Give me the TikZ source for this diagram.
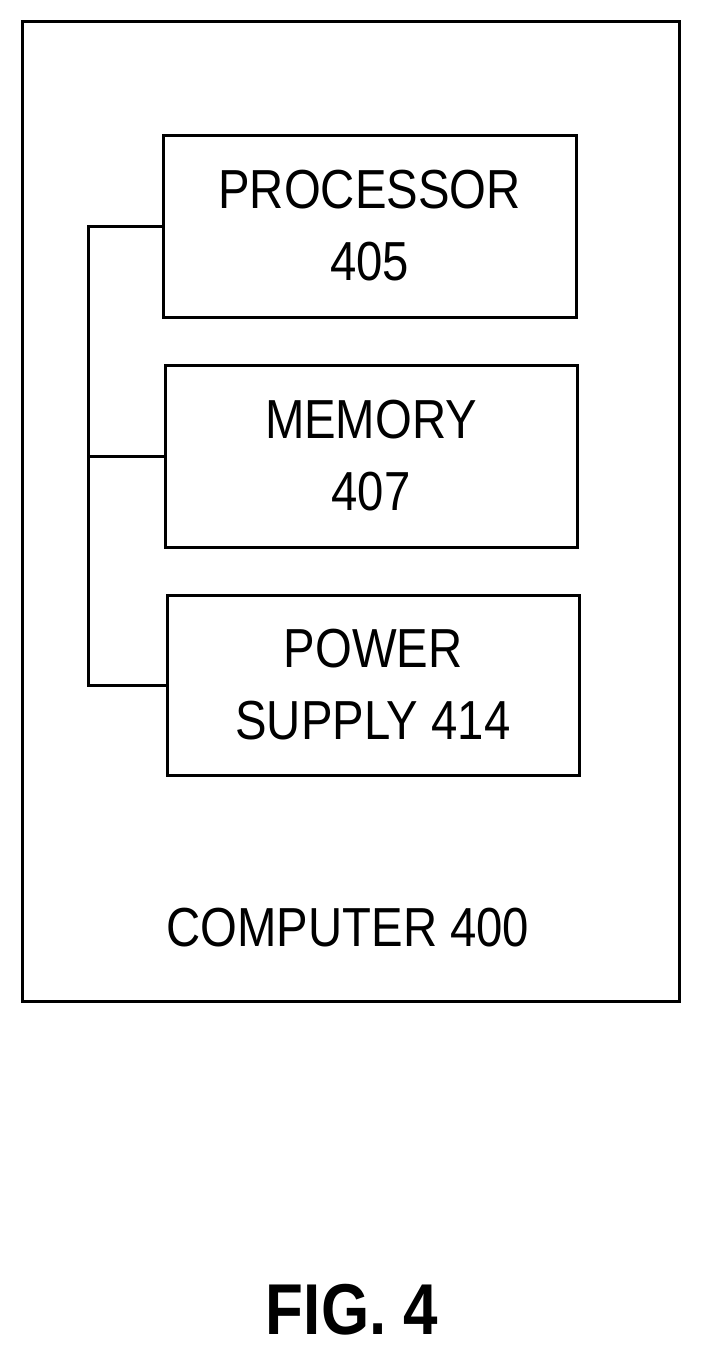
\documentclass[tikz,border=0pt]{standalone}
\usepackage{fontspec}
\setmainfont{Liberation Sans}[FakeStretch=0.86]
\begin{document}
\begin{tikzpicture}[x=1pt,y=-1pt,
  box/.style={draw,line width=3pt},
  lbl/.style={font=\fontsize{55}{72}\selectfont,align=center},
  wire/.style={line width=3pt}]
\useasboundingbox (0,0) rectangle (701,1354);
\draw[box] (22,22) rectangle (679,1001);
\node[box,minimum width=413pt,minimum height=182pt,lbl] (p) at (369.5,226) {PROCESSOR\\405};
\node[box,minimum width=412pt,minimum height=182pt,lbl] (m) at (371,456) {MEMORY\\407};
\node[box,minimum width=412pt,minimum height=180pt,lbl] (s) at (373,685) {POWER\\SUPPLY 414};
\node[lbl] (c) at (348,928) {COMPUTER 400};
\node[font=\bfseries\fontsize{72}{80}\selectfont] (f) at (352,1310) {FIG. 4};
\coordinate (b1) at (88,226);
\coordinate (b3) at (88,685);
\draw[wire] (p.west) -- (b1) -- (b3) -- (s.west);
\draw[wire] (m.west) -- (88,456);
\end{tikzpicture}
\end{document}
